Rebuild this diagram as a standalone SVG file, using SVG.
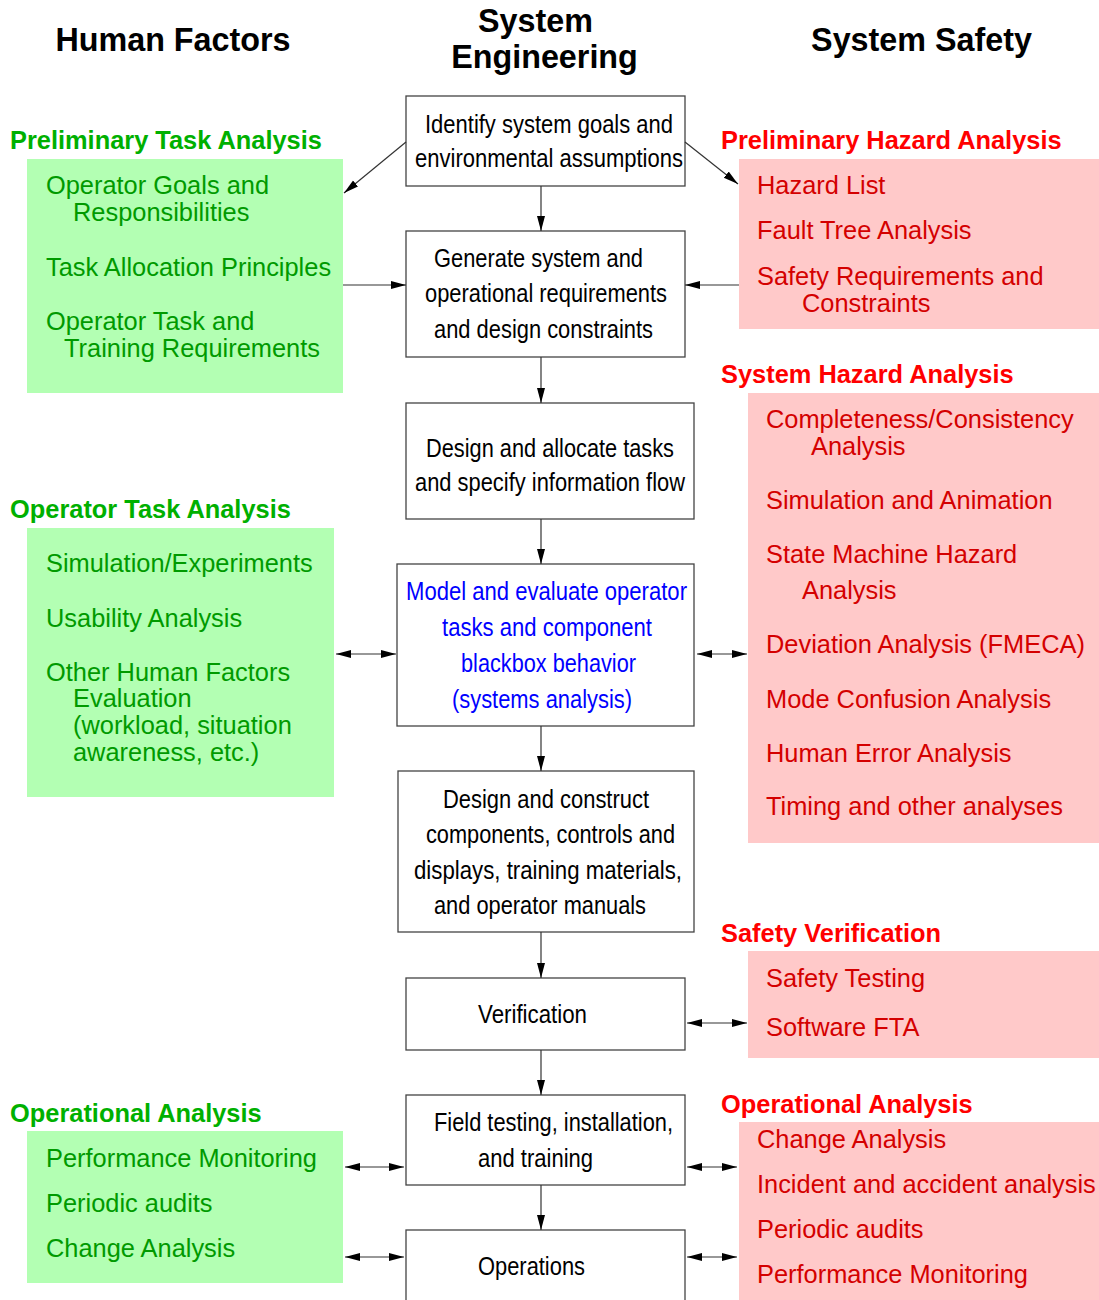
<svg xmlns="http://www.w3.org/2000/svg" width="1099" height="1300" viewBox="0 0 1099 1300">
<style>
text{font-family:"Liberation Sans",Arial,sans-serif;}
.hdr{font-size:32.3px;font-weight:bold;fill:#000;}
.gt{font-size:25.4px;font-weight:bold;fill:#00b000;}
.gi{font-size:25.4px;fill:#009a00;}
.rt{font-size:25.4px;font-weight:bold;fill:#ff0000;}
.ri{font-size:25.4px;fill:#d40000;}
.gbox{fill:#b3ffb3;}
.pbox{fill:#ffc9c9;}
.box{fill:#fff;stroke:#444;stroke-width:1.3;}
.ct{font-size:25px;fill:#000;}
.bt{font-size:25px;fill:#0000ff;}
.conn line{stroke:#333;stroke-width:1.2;}
.one{marker-end:url(#ah);}
.two{marker-end:url(#ah);marker-start:url(#ah);}
</style>
<defs>
<marker id="ah" markerUnits="userSpaceOnUse" markerWidth="16" markerHeight="9" refX="15" refY="4" orient="auto-start-reverse">
<path d="M0,0 L15,4 L0,8 z" fill="#000"/>
</marker>
</defs>
<rect width="1099" height="1300" fill="#fff"/>

<g id="headers">
<text class="hdr" x="173" y="51" text-anchor="middle">Human Factors</text>
<text class="hdr" x="535.5" y="32" text-anchor="middle">System</text>
<text class="hdr" x="544.5" y="68" text-anchor="middle">Engineering</text>
<text class="hdr" x="921.5" y="51" text-anchor="middle">System Safety</text>
</g>

<g id="hf-preliminary">
<text class="gt" x="10" y="149">Preliminary Task Analysis</text>
<rect class="gbox" x="27" y="159" width="316" height="234"/>
<text class="gi" x="46" y="194">Operator Goals and</text>
<text class="gi" x="73" y="221">Responsibilities</text>
<text class="gi" x="46" y="276">Task Allocation Principles</text>
<text class="gi" x="46" y="330">Operator Task and</text>
<text class="gi" x="64" y="357">Training Requirements</text>
</g>

<g id="hf-operator">
<text class="gt" x="10" y="518">Operator Task Analysis</text>
<rect class="gbox" x="27" y="528" width="307" height="269"/>
<text class="gi" x="46" y="572">Simulation/Experiments</text>
<text class="gi" x="46" y="627">Usability Analysis</text>
<text class="gi" x="46" y="681">Other Human Factors</text>
<text class="gi" x="73" y="707">Evaluation</text>
<text class="gi" x="73" y="734">(workload, situation</text>
<text class="gi" x="73" y="761">awareness, etc.)</text>
</g>

<g id="hf-operational">
<text class="gt" x="10" y="1122">Operational Analysis</text>
<rect class="gbox" x="27" y="1131" width="316" height="152"/>
<text class="gi" x="46" y="1167">Performance Monitoring</text>
<text class="gi" x="46" y="1212">Periodic audits</text>
<text class="gi" x="46" y="1257">Change Analysis</text>
</g>

<g id="ss-preliminary">
<text class="rt" x="721" y="149">Preliminary Hazard Analysis</text>
<rect class="pbox" x="739" y="159" width="360" height="170"/>
<text class="ri" x="757" y="194">Hazard List</text>
<text class="ri" x="757" y="239">Fault Tree Analysis</text>
<text class="ri" x="757" y="285">Safety Requirements and</text>
<text class="ri" x="802" y="312">Constraints</text>
</g>

<g id="ss-system">
<text class="rt" x="721" y="383">System Hazard Analysis</text>
<rect class="pbox" x="748" y="393" width="351" height="450"/>
<text class="ri" x="766" y="428">Completeness/Consistency</text>
<text class="ri" x="811" y="455">Analysis</text>
<text class="ri" x="766" y="509">Simulation and Animation</text>
<text class="ri" x="766" y="563">State Machine Hazard</text>
<text class="ri" x="802" y="599">Analysis</text>
<text class="ri" x="766" y="653">Deviation Analysis (FMECA)</text>
<text class="ri" x="766" y="708">Mode Confusion Analysis</text>
<text class="ri" x="766" y="762">Human Error Analysis</text>
<text class="ri" x="766" y="815">Timing and other analyses</text>
</g>

<g id="ss-verification">
<text class="rt" x="721" y="942">Safety Verification</text>
<rect class="pbox" x="748" y="951" width="351" height="107"/>
<text class="ri" x="766" y="987">Safety Testing</text>
<text class="ri" x="766" y="1036">Software FTA</text>
</g>

<g id="ss-operational">
<text class="rt" x="721" y="1113">Operational Analysis</text>
<rect class="pbox" x="739" y="1122" width="360" height="178"/>
<text class="ri" x="757" y="1148">Change Analysis</text>
<text class="ri" x="757" y="1193">Incident and accident analysis</text>
<text class="ri" x="757" y="1238">Periodic audits</text>
<text class="ri" x="757" y="1283">Performance Monitoring</text>
</g>

<g id="se-identify">
<rect class="box" x="406" y="96" width="279" height="90"/>
<text class="ct" x="425" y="133" textLength="248" lengthAdjust="spacingAndGlyphs">Identify system goals and</text>
<text class="ct" x="415" y="167" textLength="268" lengthAdjust="spacingAndGlyphs">environmental assumptions</text>
</g>

<g id="se-generate">
<rect class="box" x="406" y="231" width="279" height="126"/>
<text class="ct" x="434" y="267" textLength="209" lengthAdjust="spacingAndGlyphs">Generate system and</text>
<text class="ct" x="425" y="302" textLength="242" lengthAdjust="spacingAndGlyphs">operational requirements</text>
<text class="ct" x="434" y="338" textLength="219" lengthAdjust="spacingAndGlyphs">and design constraints</text>
</g>

<g id="se-design">
<rect class="box" x="406" y="403" width="288" height="116"/>
<text class="ct" x="426" y="457" textLength="248" lengthAdjust="spacingAndGlyphs">Design and allocate tasks</text>
<text class="ct" x="415" y="491" textLength="270" lengthAdjust="spacingAndGlyphs">and specify information flow</text>
</g>

<g id="se-model">
<rect class="box" x="397" y="564" width="297" height="162"/>
<text class="bt" x="406" y="600" textLength="281" lengthAdjust="spacingAndGlyphs">Model and evaluate operator</text>
<text class="bt" x="442" y="636" textLength="210" lengthAdjust="spacingAndGlyphs">tasks and component</text>
<text class="bt" x="461" y="672" textLength="175" lengthAdjust="spacingAndGlyphs">blackbox behavior</text>
<text class="bt" x="452" y="708" textLength="180" lengthAdjust="spacingAndGlyphs">(systems analysis)</text>
</g>

<g id="se-construct">
<rect class="box" x="398" y="771" width="296" height="161"/>
<text class="ct" x="443" y="808" textLength="206" lengthAdjust="spacingAndGlyphs">Design and construct</text>
<text class="ct" x="426" y="843" textLength="249" lengthAdjust="spacingAndGlyphs">components, controls and</text>
<text class="ct" x="414" y="879" textLength="268" lengthAdjust="spacingAndGlyphs">displays, training materials,</text>
<text class="ct" x="434" y="914" textLength="212" lengthAdjust="spacingAndGlyphs">and operator manuals</text>
</g>

<g id="se-verification">
<rect class="box" x="406" y="978" width="279" height="72"/>
<text class="ct" x="478" y="1023" textLength="109" lengthAdjust="spacingAndGlyphs">Verification</text>
</g>

<g id="se-field">
<rect class="box" x="406" y="1095" width="279" height="90"/>
<text class="ct" x="434" y="1131" textLength="239" lengthAdjust="spacingAndGlyphs">Field testing, installation,</text>
<text class="ct" x="478" y="1167" textLength="115" lengthAdjust="spacingAndGlyphs">and training</text>
</g>

<g id="se-operations">
<rect class="box" x="406" y="1230" width="279" height="80"/>
<text class="ct" x="478" y="1275" textLength="107" lengthAdjust="spacingAndGlyphs">Operations</text>
</g>

<g id="connectors" class="conn">
<line class="one" x1="406" y1="142" x2="344" y2="193"/>
<line class="one" x1="685" y1="142" x2="738" y2="184"/>
<line class="one" x1="541" y1="186" x2="541" y2="231"/>
<line class="one" x1="343" y1="285" x2="406" y2="285"/>
<line class="one" x1="739" y1="285" x2="685" y2="285"/>
<line class="one" x1="541" y1="357" x2="541" y2="403"/>
<line class="one" x1="541" y1="519" x2="541" y2="564"/>
<line class="two" x1="336" y1="654" x2="396" y2="654"/>
<line class="two" x1="697" y1="654" x2="747" y2="654"/>
<line class="one" x1="541" y1="726" x2="541" y2="771"/>
<line class="one" x1="541" y1="932" x2="541" y2="978"/>
<line class="two" x1="687" y1="1023" x2="747" y2="1023"/>
<line class="one" x1="541" y1="1050" x2="541" y2="1095"/>
<line class="two" x1="345" y1="1167" x2="404" y2="1167"/>
<line class="two" x1="687" y1="1167" x2="737" y2="1167"/>
<line class="one" x1="541" y1="1185" x2="541" y2="1230"/>
<line class="two" x1="345" y1="1257" x2="404" y2="1257"/>
<line class="two" x1="687" y1="1257" x2="737" y2="1257"/>
</g>
</svg>
